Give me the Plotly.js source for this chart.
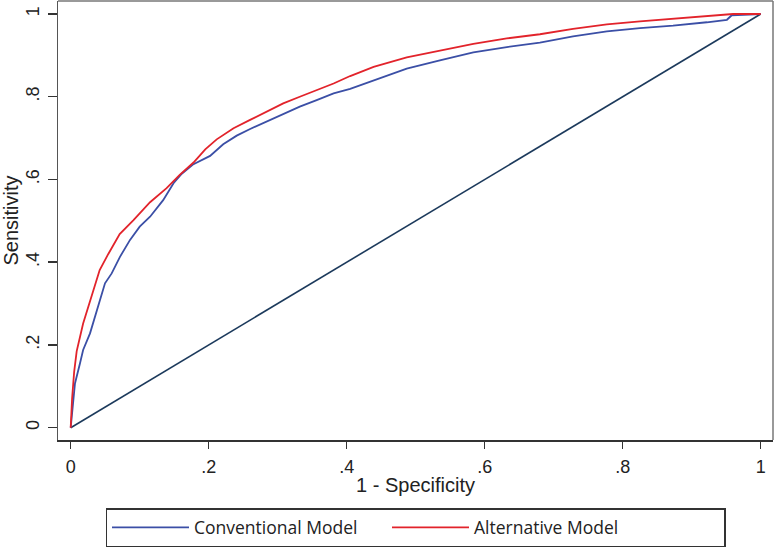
<!DOCTYPE html>
<html>
<head>
<meta charset="utf-8">
<script src="https://cdn.plot.ly/plotly-3.0.1.min.js"></script>
<style>html,body{margin:0;padding:0;background:#fff;}#chart{width:775px;height:548px;}</style>
</head>
<body>
<div id="chart"></div>
<script>
// Tick labels
const tickVals = [0, 0.2, 0.4, 0.6, 0.8, 1];
const tickText = ["0", ".2", ".4", ".6", ".8", "1"];

// Series names
const seriesNames = ["Conventional Model", "Alternative Model"];

// Conventional model ROC (1 - specificity, sensitivity)
const convX = [0, 0.0062, 0.0135, 0.018, 0.028, 0.0377, 0.0497, 0.0594, 0.0714, 0.086, 0.100, 0.115, 0.134, 0.149, 0.161, 0.178, 0.202, 0.221, 0.2406, 0.26, 0.284, 0.308, 0.332, 0.3565, 0.381, 0.405, 0.439, 0.487, 0.535, 0.5835, 0.632, 0.68, 0.728, 0.777, 0.825, 0.873, 0.922, 0.951, 0.958, 1];
const convY = [0, 0.107, 0.156, 0.188, 0.228, 0.284, 0.349, 0.373, 0.413, 0.454, 0.486, 0.510, 0.550, 0.591, 0.614, 0.637, 0.657, 0.685, 0.706, 0.722, 0.740, 0.759, 0.776, 0.792, 0.808, 0.819, 0.840, 0.868, 0.888, 0.907, 0.920, 0.931, 0.946, 0.958, 0.966, 0.972, 0.980, 0.986, 0.997, 1];

// Alternative model ROC
const altX = [0, 0.002, 0.005, 0.0087, 0.018, 0.030, 0.042, 0.0545, 0.071, 0.091, 0.115, 0.139, 0.158, 0.178, 0.195, 0.2116, 0.236, 0.26, 0.284, 0.308, 0.332, 0.3565, 0.381, 0.405, 0.439, 0.487, 0.535, 0.5835, 0.632, 0.68, 0.728, 0.777, 0.825, 0.873, 0.922, 0.96, 1];
const altY = [0, 0.07, 0.135, 0.185, 0.252, 0.317, 0.381, 0.42, 0.468, 0.502, 0.545, 0.579, 0.611, 0.641, 0.673, 0.697, 0.724, 0.744, 0.764, 0.784, 0.800, 0.816, 0.832, 0.850, 0.872, 0.895, 0.912, 0.928, 0.941, 0.951, 0.964, 0.975, 0.982, 0.989, 0.996, 1.0, 1];

// Reference (chance) line
const refX = [0, 1];
const refY = [0, 1];

const tickFont = {family: "Liberation Sans, Arial, sans-serif", size: 18, color: "#222"};
const titleFont = {family: "Liberation Sans, Arial, sans-serif", size: 20, color: "#222"};

const traces = [
  {x: refX, y: refY, type: "scatter", mode: "lines", line: {color: "#1c3a5c", width: 1.6}, showlegend: false, hoverinfo: "skip"},
  {x: convX, y: convY, type: "scatter", mode: "lines", name: seriesNames[0], line: {color: "#3b4fa6", width: 1.8}, legendwidth: 188},
  {x: altX, y: altY, type: "scatter", mode: "lines", name: seriesNames[1], line: {color: "#e2232b", width: 1.8}, legendwidth: 245}
];

const layout = {
  width: 775, height: 548,
  margin: {l: 58, r: 2, t: 1, b: 108, pad: 0},
  paper_bgcolor: "#fff", plot_bgcolor: "#fff",
  showlegend: true,
  xaxis: {
    range: [-0.0184, 1.0178], tickvals: tickVals, ticktext: tickText,
    ticks: "outside", ticklen: 7, tickwidth: 1.5, tickcolor: "#333",
    showline: true, linecolor: "#333", linewidth: 2,
    showgrid: false, zeroline: false, tickfont: tickFont, ticklabelstandoff: 2,
    title: {text: "1 - Specificity", font: titleFont, standoff: 2}
  },
  yaxis: {
    range: [-0.0297, 1.0314], tickvals: tickVals, ticktext: tickText, tickangle: -90,
    ticks: "outside", ticklen: 9, tickwidth: 1.5, tickcolor: "#333",
    showline: true, linecolor: "#555", linewidth: 1.5,
    showgrid: false, zeroline: false, tickfont: tickFont, ticklabelstandoff: 1,
    title: {text: "Sensitivity", font: titleFont, standoff: 6}
  },
  shapes: [
    {type: "line", xref: "paper", yref: "paper", x0: 0, x1: 1, y0: 1, y1: 1, line: {color: "#777", width: 1.5}},
    {type: "line", xref: "paper", yref: "paper", x0: 1, x1: 1, y0: 0, y1: 1, line: {color: "#777", width: 1.5}}
  ],
  legend: {
    orientation: "h", x: 0.5, xanchor: "center", y: -0.155, yanchor: "top",
    bordercolor: "#333", borderwidth: 1.5, bgcolor: "#fff",
    font: {family: "Open Sans, sans-serif", size: 17.5, color: "#222"},
    itemwidth: 77, traceorder: "normal"
  }
};

Plotly.newPlot("chart", traces, layout, {displayModeBar: false, staticPlot: true});
</script>
</body>
</html>
